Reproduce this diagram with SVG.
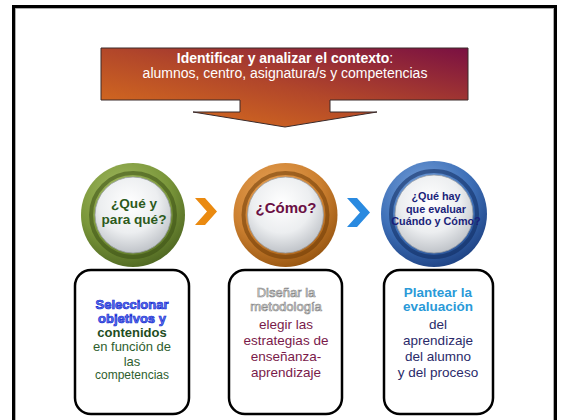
<svg xmlns="http://www.w3.org/2000/svg" width="567" height="420" viewBox="0 0 567 420">
<defs>
<linearGradient id="bannerG" x1="0" y1="1" x2="1" y2="0">
<stop offset="0" stop-color="#de751b"/>
<stop offset="0.5" stop-color="#b2472a"/>
<stop offset="1" stop-color="#7a1042"/>
</linearGradient>
<radialGradient id="discG" cx="0.45" cy="0.35" r="0.7">
<stop offset="0" stop-color="#ffffff"/>
<stop offset="0.55" stop-color="#eceef0"/>
<stop offset="1" stop-color="#b8bcc2"/>
</radialGradient>
<radialGradient id="greenG" cx="0.4" cy="0.3" r="0.75">
<stop offset="0" stop-color="#a4bc62"/>
<stop offset="0.6" stop-color="#7a963a"/>
<stop offset="1" stop-color="#4c6420"/>
</radialGradient>
<radialGradient id="orangeG" cx="0.4" cy="0.3" r="0.75">
<stop offset="0" stop-color="#e8a256"/>
<stop offset="0.6" stop-color="#cc8030"/>
<stop offset="1" stop-color="#93520e"/>
</radialGradient>
<radialGradient id="blueG" cx="0.4" cy="0.3" r="0.75">
<stop offset="0" stop-color="#7aa4dc"/>
<stop offset="0.6" stop-color="#3e70b8"/>
<stop offset="1" stop-color="#1c3f80"/>
</radialGradient>
</defs>
<style>
text{font-family:"Liberation Sans",Arial,sans-serif;text-anchor:middle}
.box{fill:#fff;stroke:#000;stroke-width:2.5}
.ring{fill:none;stroke-width:4;stroke-opacity:0.55}
.disc{fill:url(#discG);stroke:#9aa0a6;stroke-width:0.8}
.bt{font-size:13.5px}
.bs{font-size:13px}
.b{font-weight:bold}
</style>
<rect x="13.5" y="6.5" width="542" height="430" fill="#fff" stroke="#000" stroke-width="3"/>
<rect x="15.5" y="8.5" width="538" height="430" fill="none" stroke="#999" stroke-width="0.8"/>

<g id="banner">
<polygon points="101,48 468,48 468,100 330,100 330,112 377,112 285,127 193,112 240,112 240,100 101,100" fill="url(#bannerG)" stroke="#3a2a2a" stroke-width="1"/>
<text x="285" y="63" font-size="14" fill="#fff"><tspan font-weight="bold">Identificar y analizar el contexto</tspan>:</text>
<text x="285" y="78" font-size="14" fill="#fff">alumnos, centro, asignatura/s y competencias</text>
</g>

<g id="circle1">
<circle cx="133" cy="215" r="52" fill="url(#greenG)"/>
<circle cx="133" cy="215" r="42" class="ring" stroke="#3a4e14"/>
<circle cx="133" cy="215" r="38" class="disc"/>
<text x="134" y="208" font-size="13.6" class="b" fill="#2c5a1c">¿Qué y</text>
<text x="134" y="224" font-size="13.6" class="b" fill="#2c5a1c">para qué?</text>
</g>

<g id="circle2">
<circle cx="285.5" cy="215" r="52" fill="url(#orangeG)"/>
<circle cx="285.5" cy="215" r="42" class="ring" stroke="#6e3a06"/>
<circle cx="285.5" cy="215" r="38" class="disc"/>
<text x="286" y="213" font-size="15" class="b" fill="#6b1044">¿Cómo?</text>
</g>

<g id="circle3">
<circle cx="434" cy="214" r="53" fill="url(#blueG)"/>
<circle cx="434" cy="214" r="43" class="ring" stroke="#0f2a5e"/>
<circle cx="434" cy="214" r="39" class="disc"/>
<text x="436" y="200" font-size="10.8" class="b" fill="#1a1f7a">¿Qué hay</text>
<text x="436" y="213" font-size="10.8" class="b" fill="#1a1f7a">que evaluar</text>
<text x="436" y="225" font-size="10.8" class="b" fill="#1a1f7a">Cuándo y Cómo?</text>
</g>

<g id="connectors">
<polygon points="195,198 205,198 217,211.5 205,225 195,225 207,211.5" fill="#ea8a10"/>
<polygon points="347,198 357,198 370,212.5 357,227 347,227 360,212.5" fill="#2a8ae0"/>
</g>

<g id="box1">
<rect x="75" y="270" width="114" height="144" rx="16" class="box"/>
<text x="132" y="309" class="bs b" fill="#5a78f0" stroke="#1a2ad0" stroke-width="0.7">Seleccionar</text>
<text x="132" y="323" class="bs b" fill="#5a78f0" stroke="#1a2ad0" stroke-width="0.7">objetivos y</text>
<text x="132" y="337" class="bs b" fill="#1e4d1e">contenidos</text>
<text x="132" y="351" class="bs" fill="#2e5e2e">en función de</text>
<text x="132" y="365.5" class="bs" fill="#2e5e2e">las</text>
<text x="132" y="379" font-size="12" fill="#2e5e2e">competencias</text>
</g>

<g id="box2">
<rect x="229" y="270" width="113" height="144" rx="16" class="box"/>
<text x="286" y="296.5" class="bs" fill="#fff" stroke="#8a8a8a" stroke-width="0.7">Diseñar la</text>
<text x="286" y="311" class="bs" fill="#fff" stroke="#8a8a8a" stroke-width="0.7">metodología</text>
<text x="286" y="329" class="bt" fill="#7a1a4a">elegir las</text>
<text x="286" y="345" class="bt" fill="#7a1a4a">estrategias de</text>
<text x="286" y="361" class="bt" fill="#7a1a4a">enseñanza-</text>
<text x="286" y="377" class="bt" fill="#7a1a4a">aprendizaje</text>
</g>

<g id="box3">
<rect x="384" y="270" width="109" height="144" rx="16" class="box"/>
<text x="438" y="297" class="bt b" fill="#2a9ad8">Plantear la</text>
<text x="438" y="311" class="bt b" fill="#2a9ad8">evaluación</text>
<text x="438" y="329" class="bt" fill="#2a2a6a">del</text>
<text x="438" y="345" class="bt" fill="#2a2a6a">aprendizaje</text>
<text x="438" y="361" class="bt" fill="#2a2a6a">del alumno</text>
<text x="438" y="377" class="bt" fill="#2a2a6a">y del proceso</text>
</g>
</svg>
